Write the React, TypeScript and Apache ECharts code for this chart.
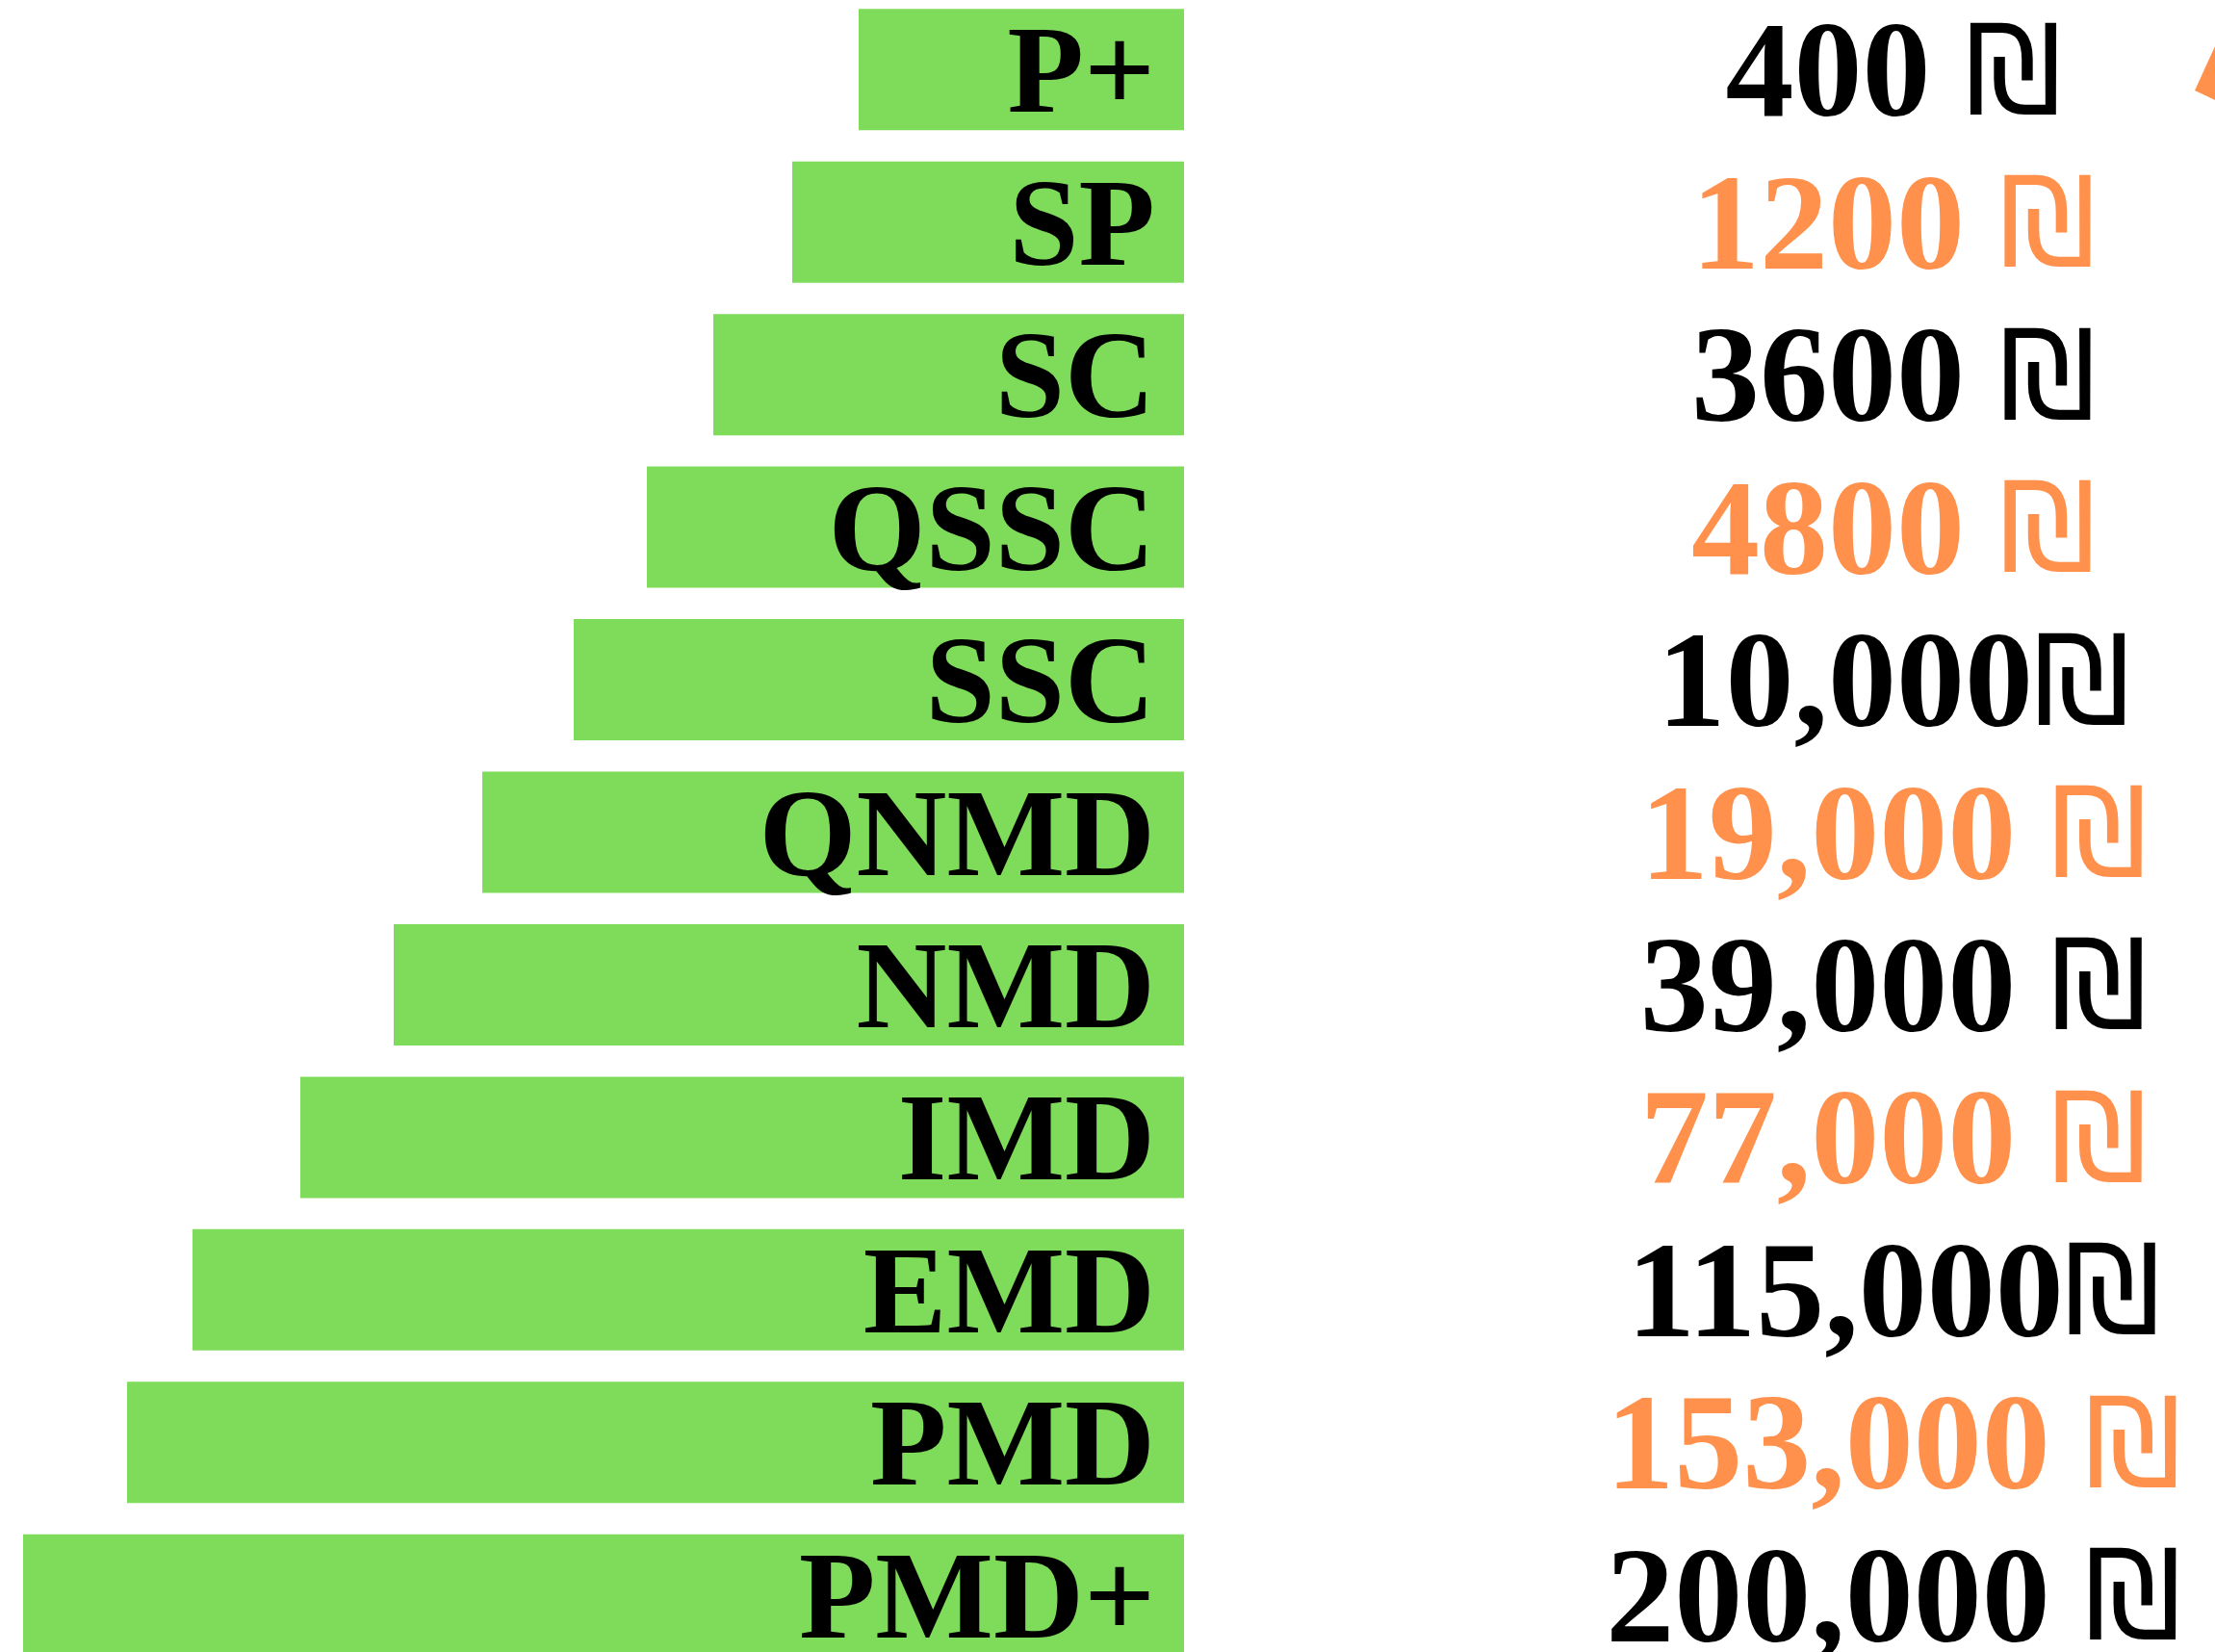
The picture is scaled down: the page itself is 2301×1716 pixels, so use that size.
import React, { useEffect, useRef } from "react";
import * as echarts from "echarts";

const categories = ["P+", "SP", "SC", "QSSC", "SSC", "QNMD", "NMD", "IMD", "EMD", "PMD", "PMD+"];
const barLengths = [338, 407, 489, 558, 634, 729, 821, 918, 1030, 1098, 1206];
const priceNumbers = ["400", "1200", "3600", "4800", "10,000", "19,000", "39,000", "77,000", "115,000", "153,000", "200,000"];
const priceGaps = [" ", " ", " ", " ", "", " ", " ", " ", "", " ", " "];
const currencySign = "₪";
const priceColors = ["#000000", "#FF914D"];

const GREEN = "#7FDB5A";
const ORANGE = "#FF914D";
const FONT = "'Liberation Serif', 'DejaVu Serif', serif";
const SIGN_FONT = "'DejaVu Sans', 'Liberation Sans', sans-serif";

export default function App() {
  const ref = useRef<HTMLDivElement>(null);

  useEffect(() => {
    if (!ref.current) return;
    const chart = echarts.init(ref.current, null, { renderer: "svg" });
    const colorOf = (v: string) => priceColors[categories.indexOf(v) % 2];
    const rich: any = {};
    priceColors.forEach((c, k) => {
      rich["n" + k] = { fontSize: 142, fontWeight: "bold", fontFamily: FONT, color: c, lineHeight: 104 };
      rich["s" + k] = { fontSize: 128, fontWeight: "normal", fontFamily: SIGN_FONT, color: c, lineHeight: 104 };
    });
    chart.setOption({
      animation: false,
      backgroundColor: "#ffffff",
      grid: {
        left: 0,
        right: 1071,
        top: -7,
        height: 1743,
        containLabel: false,
        outerBoundsMode: "none",
      },
      xAxis: {
        type: "value",
        min: 0,
        max: 1230,
        inverse: true,
        show: false,
      },
      yAxis: [
        {
          type: "category",
          data: categories,
          inverse: true,
          show: false,
        },
        {
          type: "category",
          data: categories,
          inverse: true,
          position: "right",
          axisLine: { show: false },
          axisTick: { show: false },
          splitLine: { show: false },
          axisLabel: {
            show: true,
            interval: 0,
            margin: 737,
            align: "center",
            fontSize: 142,
            fontWeight: "bold",
            fontFamily: FONT,
            lineHeight: 104,
            color: colorOf,
            formatter: (v: string) => {
              const i = categories.indexOf(v);
              const k = i % 2;
              return `{n${k}|${priceNumbers[i]}${priceGaps[i]}}{s${k}|${currencySign}}`;
            },
            rich,
          },
        },
      ],
      series: [
        {
          type: "bar",
          yAxisIndex: 0,
          data: barLengths,
          barWidth: 126,
          itemStyle: { color: GREEN },
          label: {
            show: true,
            position: "insideRight",
            distance: 30,
            formatter: (p: any) => categories[p.dataIndex],
            fontSize: 130,
            fontWeight: "bold",
            fontFamily: FONT,
            lineHeight: 100,
            color: "#000000",
          },
        },
      ],
      graphic: [
        {
          type: "polygon",
          shape: { points: [[2301, 48], [2280, 94], [2301, 104]] },
          style: { fill: ORANGE },
        },
      ],
    });
    return () => chart.dispose();
  }, []);

  return (
    <div
      ref={ref}
      style={{ position: "absolute", left: 0, top: 0, width: 2301, height: 1716 }}
    />
  );
}
